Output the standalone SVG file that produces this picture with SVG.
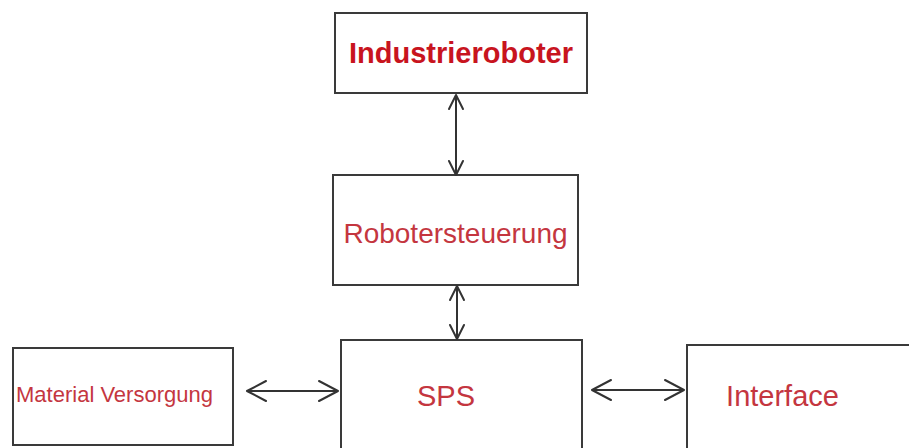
<svg xmlns="http://www.w3.org/2000/svg" width="909" height="448" viewBox="0 0 909 448">
<style>
.box{fill:#fff;stroke:#3a3a3a;stroke-width:2}
.lbl{font-family:"Liberation Sans",Arial,sans-serif;fill:#c4363f;text-anchor:middle}
.bold{font-weight:bold;fill:#c8141e}
.conn{stroke:#333;stroke-width:2;fill:none}
.head{stroke:#333;stroke-width:2;fill:none;stroke-linecap:round;stroke-linejoin:round}
</style>
<rect width="909" height="448" fill="#fff"/>
<g id="industrieroboter">
<rect class="box" x="335" y="13" width="252" height="80"/>
<text class="lbl bold" x="461" y="63" font-size="29">Industrieroboter</text>
</g>
<g id="robotersteuerung">
<rect class="box" x="333" y="175" width="245" height="110"/>
<text class="lbl" x="455.5" y="243" font-size="28">Robotersteuerung</text>
</g>
<g id="sps">
<rect class="box" x="341" y="340" width="241" height="120"/>
<text class="lbl" x="446" y="406" font-size="29">SPS</text>
</g>
<g id="material">
<rect class="box" x="13" y="348" width="220" height="97"/>
<text class="lbl" x="114.5" y="402" font-size="22">Material Versorgung</text>
</g>
<g id="interface">
<rect class="box" x="687" y="345" width="240" height="120"/>
<text class="lbl" x="782.5" y="406" font-size="29">Interface</text>
</g>
<g id="connectors">
<line class="conn" x1="456" y1="95" x2="456" y2="175"/>
<polyline class="head" points="449,109 456,95 463,109"/>
<polyline class="head" points="449,161 456,175 463,161"/>
<line class="conn" x1="457" y1="286" x2="457" y2="339"/>
<polyline class="head" points="450,300 457,286 464,300"/>
<polyline class="head" points="450,325 457,339 464,325"/>
<line class="conn" x1="247" y1="391" x2="338" y2="391"/>
<polyline class="head" points="266,381 247,391 266,401"/>
<polyline class="head" points="319,381 338,391 319,401"/>
<line class="conn" x1="592" y1="390" x2="684" y2="390"/>
<polyline class="head" points="611,380 592,390 611,400"/>
<polyline class="head" points="665,380 684,390 665,400"/>
</g>
</svg>
